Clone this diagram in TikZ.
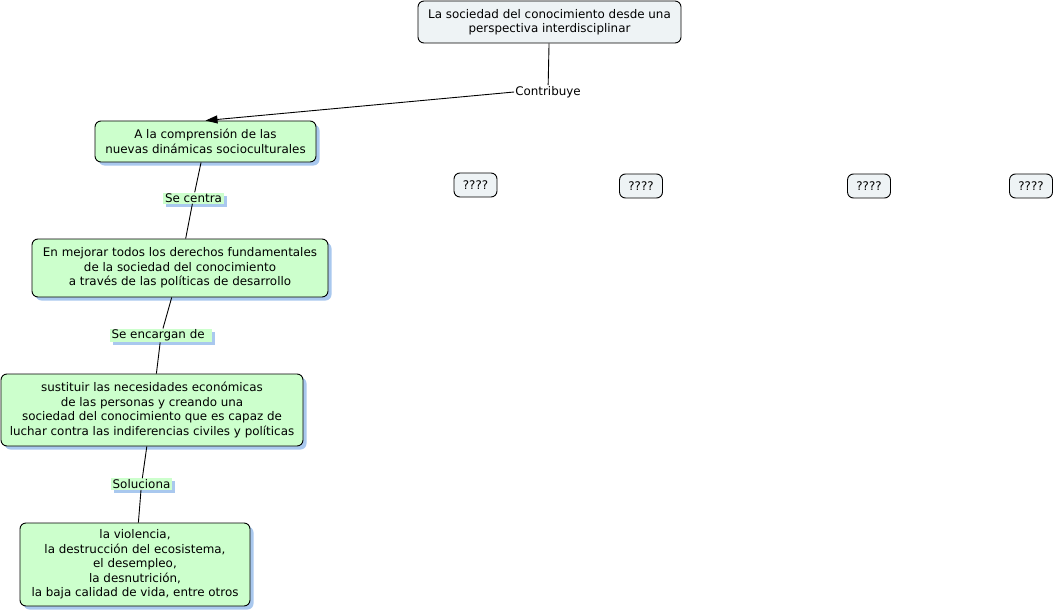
\documentclass[tikz,border=0pt]{standalone}
\usepackage{fontspec}
\setmainfont{DejaVu Sans}
\usetikzlibrary{shadows,arrows.meta}
\definecolor{cgreen}{HTML}{CCFFCC}
\definecolor{cgray}{HTML}{EEF3F5}
\definecolor{cshadow}{HTML}{A9C8EE}
\tikzset{
  every node/.style={font=\fontsize{11.9}{14.5}\selectfont, align=center, inner sep=0pt},
  concept/.style={draw=black, line width=0.9pt, rounded corners=6pt, fill=cgreen,
    drop shadow={shadow xshift=3.5pt, shadow yshift=-3.5pt, fill=cshadow, opacity=1}},
  plain/.style={draw=black, line width=0.9pt, rounded corners=6pt, fill=cgray},
  linkbox/.style={fill=cgreen, inner xsep=2pt, inner ysep=1pt,
    drop shadow={shadow xshift=3pt, shadow yshift=-3pt, fill=cshadow, opacity=1}},
  linkplain/.style={fill=white, inner xsep=1pt, inner ysep=1pt},
  conn/.style={draw=black, line width=0.9pt},
}
\begin{document}
\begin{tikzpicture}[x=1pt,y=-1pt]
\useasboundingbox (0,0) rectangle (1054,615);
\node[plain, minimum width=263pt, minimum height=42pt] (top) at (549.5,22) {La sociedad del conocimiento desde una\\perspectiva interdisciplinar};
\node[linkplain] (contrib) at (548,92) {Contribuye};
\node[concept, minimum width=221pt, minimum height=41pt] (A) at (205.5,141.5) {A la comprensión de las\\nuevas dinámicas socioculturales};
\node[linkbox, minimum width=61pt] (sc) at (193.5,198) {Se centra};
\node[concept, minimum width=296pt, minimum height=58pt] (B) at (180,268) {En mejorar todos los derechos fundamentales\\de la sociedad del conocimiento\\a través de las políticas de desarrollo};
\node[linkbox, minimum width=102pt] (se) at (161,335.5) {Se encargan de\ \,};
\node[concept, minimum width=302pt, minimum height=72pt] (C) at (152,410) {sustituir las necesidades económicas\\de las personas y creando una\\sociedad del conocimiento que es capaz de\\luchar contra las indiferencias civiles y políticas};
\node[linkbox, minimum width=61pt] (so) at (141.5,484) {Soluciona};
\node[concept, minimum width=230pt, minimum height=83pt] (D) at (135,564.5) {la violencia,\\la destrucción del ecosistema,\\el desempleo,\\la desnutrición,\\la baja calidad de vida, entre otros};
\node[plain, minimum width=43pt, minimum height=24pt] (q1) at (475.5,185) {????};
\node[plain, minimum width=43pt, minimum height=24pt] (q2) at (641,186) {????};
\node[plain, minimum width=43pt, minimum height=24pt] (q3) at (869,186) {????};
\node[plain, minimum width=43pt, minimum height=24pt] (q4) at (1031,186) {????};
\draw[conn] (top) -- (contrib);
\draw[conn, -{Triangle[length=12pt,width=8pt]}] (contrib.west) -- (A.north);
\draw[conn] (A) -- (sc);
\draw[conn] (sc) -- (B);
\draw[conn] (B) -- (se);
\draw[conn] (se) -- (C);
\draw[conn] (C) -- (so);
\draw[conn] (so) -- (D);
\end{tikzpicture}
\end{document}
